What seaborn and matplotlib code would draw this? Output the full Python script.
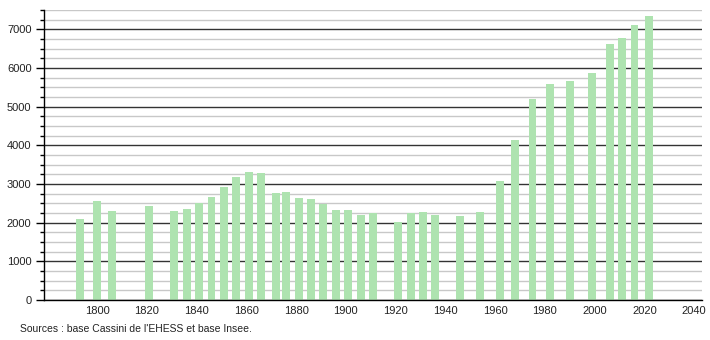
import matplotlib
matplotlib.use("Agg")
import matplotlib.pyplot as plt
import seaborn as sns
import pandas as pd
from matplotlib.ticker import MultipleLocator

years = [1793, 1800, 1806, 1821, 1831, 1836, 1841, 1846, 1851, 1856, 1861, 1866,
         1872, 1876, 1881, 1886, 1891, 1896, 1901, 1906, 1911, 1921, 1926, 1931,
         1936, 1946, 1954, 1962, 1968, 1975, 1982, 1990, 1999, 2006, 2011, 2016, 2022]
population = [2100, 2550, 2310, 2420, 2290, 2360, 2520, 2670, 2910, 3190, 3320, 3275,
              2775, 2800, 2645, 2620, 2490, 2335, 2335, 2205, 2245, 2005, 2245, 2280,
              2205, 2180, 2280, 3085, 4145, 5205, 5590, 5675, 5875, 6630, 6780, 7100, 7335]
x_ticks = [1800, 1820, 1840, 1860, 1880, 1900, 1920, 1940, 1960, 1980, 2000, 2020, 2040]
y_ticks = [0, 1000, 2000, 3000, 4000, 5000, 6000, 7000]
source_text = "Sources : base Cassini de l'EHESS et base Insee."

df = pd.DataFrame({"year": years, "pop": population})

sns.set_style("white")
plt.rcParams["font.family"] = ["Liberation Sans", "DejaVu Sans"]

fig = plt.figure(figsize=(7.1, 3.4), dpi=100)
ax = fig.add_axes([0.062, 0.1176, 0.927, 0.853])

sns.barplot(data=df, x="year", y="pop", native_scale=True, width=0.8,
            color="#aee3b0", saturation=1, ax=ax, linewidth=0, edgecolor="none")
for p in ax.patches:
    p.set_zorder(4)
    p.set_edgecolor("none")
    p.set_linewidth(0)

ax.set_xlim(1778.7, 2043.2)
ax.set_ylim(0, 7500)
ax.set_xticks(x_ticks)
ax.set_xticklabels([str(t) for t in x_ticks])
ax.set_yticks(y_ticks)
ax.set_yticklabels([str(t) for t in y_ticks])
ax.yaxis.set_minor_locator(MultipleLocator(250))

ax.set_axisbelow(True)
ax.grid(axis="y", which="minor", color="#c8c8c8", linewidth=1)
ax.grid(axis="y", which="major", color="#333333", linewidth=1)
ax.grid(axis="x", visible=False)

for s in ["top", "right"]:
    ax.spines[s].set_visible(False)
for s in ["left", "bottom"]:
    ax.spines[s].set_color("black")
    ax.spines[s].set_linewidth(1.0)
    ax.spines[s].set_zorder(5)

ax.tick_params(axis="y", which="major", length=6, width=1, color="black",
               labelsize=8, pad=3, left=True, labelcolor="#222222")
ax.tick_params(axis="y", which="minor", length=3, width=1, color="black", left=True)
ax.tick_params(axis="x", which="both", length=0, labelsize=8, pad=4, labelcolor="#222222")
ax.set_xlabel("")
ax.set_ylabel("")

fig.text(20 / 710, 1 - 329 / 340, source_text, fontsize=7.5, color="#222222",
         ha="left", va="center")

fig.savefig("out.png", dpi=100)
